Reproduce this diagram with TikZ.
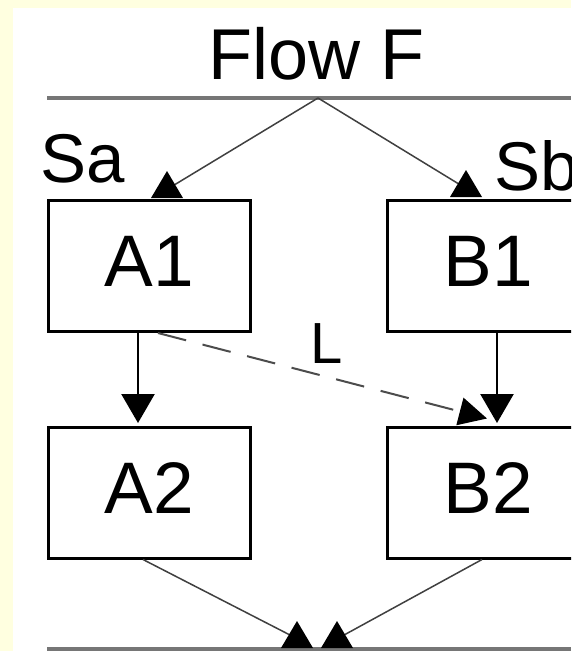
\documentclass[tikz,border=0pt]{standalone}
\usepackage{fontspec}
\setmainfont{Liberation Sans}
\usepackage{tikz}
\usetikzlibrary{positioning, arrows.meta, calc}

\definecolor{paper}{RGB}{255,255,224}
\definecolor{barcol}{RGB}{118,118,118}

% filled triangle standing on its base
\newcommand{\headup}[1]{\fill[black] (#1) ++(-16,0) -- ++(32,0) -- ++(-16,-27) -- cycle;}

\tikzset{
    block/.style={draw=black, line width=3pt, minimum width=202pt, minimum height=131pt,
        inner sep=0pt, text height=53pt, text depth=12pt, font=\fontsize{73}{80}\selectfont},
    tag/.style={inner sep=0pt},
    feed/.style={line width=1.5pt, black!75},
    flow/.style={line width=2.5pt, black, shorten >=2.5pt, -{Triangle[length=29pt, width=33pt]}},
    link/.style={line width=2pt, black!70, dash pattern=on 29pt off 17pt, -{Triangle[length=28pt, width=28pt, color=black]}},
    barline/.style={line width=4pt, barcol}
}

\begin{document}
\begin{tikzpicture}[x=1pt, y=-1pt]
            \useasboundingbox (0,0) rectangle (571,651);
            \clip (0,0) rectangle (571,651);

            % page
            \fill[paper] (0,0) rectangle (571,651);
            \fill[white] (13,8) rectangle (571,651);

            \coordinate (fork) at (318,98);
            \coordinate (baseSa) at (167,198);
            \coordinate (baseSb) at (466,197);
            \coordinate (baseJa) at (297,648);
            \coordinate (baseJb) at (337,648);

            % title and bars
            \node[tag, anchor=base, font=\fontsize{72}{80}\selectfont] (title) at (316.5,79) {Flow F};
            \draw[barline] (47,98) -- (571,98);
            \draw[barline] (47,648.5) -- (571,648.5);

            % boxes
            \node[block] (A1) at (149.5,266) {A1};
            \node[block] (B1) at (488.5,266) {B1};
            \node[block] (A2) at (149.5,492.5) {A2};
            \node[block] (B2) at (488.5,492.5) {B2};

            % labels
            \node[tag, anchor=base, font=\fontsize{69}{76}\selectfont] (Sa) at (82.5,182) {Sa};
            \node[tag, anchor=base west, font=\fontsize{69}{76}\selectfont] (Sb) at (494,190) {Sb};
            \node[tag, anchor=base, font=\fontsize{58}{64}\selectfont] (L) at (327,363) {L};

            % split and merge
            \draw[feed] (fork) -- ($(baseSa)+(8,-13.5)$);
            \draw[feed] (fork) -- ($(baseSb)+(-8,-13.5)$);
            \draw[feed] ([xshift=-6.5pt]A2.south) -- ($(baseJa)+(-8,-13.5)$);
            \draw[feed] ([xshift=-6.5pt]B2.south) -- ($(baseJb)+(8,-13.5)$);

            \foreach \b in {baseSa, baseSb, baseJa, baseJb}
            {
                \headup{\b}
            }

            % sequence arrows
            \draw[flow] ([xshift=-11.5pt]A1.south) -- ([xshift=-11.5pt]A2.north);
            \draw[flow] ([xshift=8.5pt]B1.south) -- ([xshift=8.5pt]B2.north);
            \draw[link] ([xshift=8.5pt]A1.south) -- ([xshift=-1.5pt, yshift=7pt]B2.north);
        \end{tikzpicture}
\end{document}
